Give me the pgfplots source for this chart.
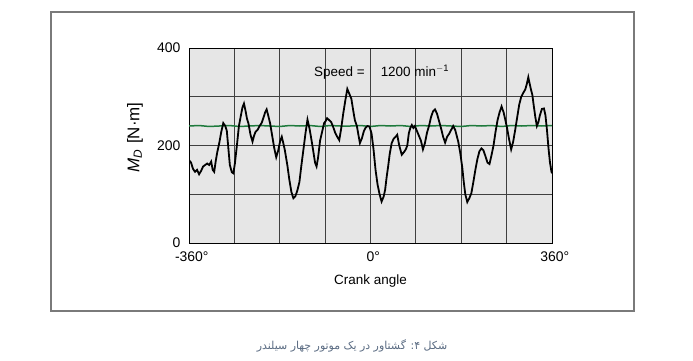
\documentclass[border=0pt]{standalone}
\usepackage{pgfplots}
\pgfplotsset{compat=1.18}
\usepackage{fontspec}
\setmainfont{Liberation Sans}
\newfontfamily\arabicfont[Script=Arabic]{DejaVu Sans}
\TeXXeTstate=1
\definecolor{plotbg}{HTML}{E6E6E6}
\definecolor{gridc}{HTML}{404040}
\definecolor{greenc}{HTML}{1E7A3C}
\definecolor{framec}{HTML}{7A7A7A}
\definecolor{capc}{HTML}{5A6B82}
\begin{document}
\begin{tikzpicture}[x=1bp,y=1bp]
\useasboundingbox (0,0) rectangle (693,360);
\draw[framec, line width=1.2bp] (51,49) rectangle (634,348);
\begin{axis}[
  at={(189bp,117bp)}, anchor=south west,
  scale only axis, width=363bp, height=195bp,
  xmin=-360, xmax=360, ymin=0, ymax=400,
  axis background/.style={fill=plotbg},
  xtick={-360,-270,...,360},
  xticklabels={-360\rlap{°},,,,0\rlap{°},,,,360\rlap{°}},
  ytick={0,100,...,400},
  yticklabels={0,,200,,400},
  major tick length=0pt,
  grid=major,
  grid style={gridc, line width=0.9bp},
  axis line style={black, line width=0.9bp},
  tick label style={font=\fontsize{14}{15}\selectfont},
  yticklabel style={xshift=-5bp},
  xticklabel style={yshift=-5bp},
  /pgf/number format/assume math mode=true,
  xlabel={Crank angle},
  xlabel style={font=\fontsize{13.5}{14}\selectfont, at={(axis description cs:0.5,-0.195)}, anchor=center},
  ylabel={{\itshape M}\textsubscript{\itshape D}\hspace{0.35em}[N·m]},
  ylabel style={font=\fontsize{17}{18}\selectfont, at={(axis description cs:-0.149,0.54)}, anchor=center},
  clip=true,
]
\addplot[greenc, line width=1.5bp] coordinates {
(-360,240) (-340,241) (-320,239) (-300,240) (-280,241) (-260,239) (-240,240) (-220,241)
(-200,240) (-180,239) (-160,241) (-140,240) (-120,241) (-100,239) (-80,241) (-60,240)
(-40,240) (-20,241) (0,239) (20,241) (40,240) (60,241) (80,239) (100,241) (120,240)
(140,241) (160,240) (180,239) (200,241) (220,240) (240,241) (260,239) (280,241) (300,240)
(320,241) (340,240) (360,241)
};
\addplot[black, line width=1.8bp] coordinates {
(-360,170) (-356,165) (-352,152) (-348,146) (-344,150) (-340,141) (-336,148) (-332,157)
(-328,160) (-324,163) (-320,160) (-316,167) (-313,150) (-310,146) (-307,168) (-304,186)
(-300,205) (-296,228) (-292,246) (-288,240) (-285,230) (-282,195) (-279,160) (-275,145)
(-272,143) (-269,163) (-265,200) (-261,240) (-257,262) (-254,278) (-251,286) (-248,272)
(-245,255) (-242,245) (-238,222) (-234,208) (-231,220) (-228,228) (-224,232) (-220,240)
(-216,246) (-212,258) (-209,268) (-206,274) (-203,262) (-199,245) (-195,220) (-191,195)
(-187,176) (-183,190) (-179,210) (-176,218) (-173,205) (-170,191) (-165,160) (-161,130)
(-157,105) (-153,92) (-149,96) (-145,108) (-141,125) (-137,160) (-133,192) (-129,225)
(-125,253) (-121,235) (-117,211) (-113,185) (-110,165) (-107,157) (-104,175) (-100,210)
(-96,228) (-92,246) (-89,250) (-86,256) (-82,252) (-78,248) (-74,238) (-70,226) (-66,218)
(-62,211) (-58,236) (-54,266) (-50,292) (-46,316) (-42,306) (-38,296) (-34,270) (-31,252)
(-27,240) (-24,222) (-21,205) (-17,215) (-13,230) (-10,236) (-6,240) (-2,239) (2,225)
(6,192) (10,150) (14,120) (18,100) (22,85) (26,95) (29,109) (32,135) (35,157) (38,182)
(42,205) (46,214) (50,218) (53,222) (57,200) (62,181) (66,186) (70,192) (73,200) (76,225)
(79,236) (82,242) (85,236) (88,240) (92,230) (96,220) (100,210) (104,192) (108,205)
(112,226) (116,240) (120,258) (124,270) (128,274) (132,265) (136,250) (140,235) (144,218)
(148,206) (152,218) (156,224) (160,232) (164,240) (168,232) (171,220) (174,208) (178,185)
(182,155) (185,125) (188,100) (192,84) (196,92) (200,102) (204,125) (208,150) (212,172)
(216,188) (220,194) (224,190) (228,178) (232,165) (236,162) (240,180) (244,200) (248,228)
(252,252) (256,268) (260,280) (264,268) (268,250) (271,235) (275,212) (279,192) (283,208)
(287,232) (291,258) (295,284) (299,300) (303,308) (307,315) (310,326) (313,340) (315,330)
(318,316) (321,304) (324,280) (327,258) (330,240) (333,248) (336,262) (340,275) (344,276)
(347,262) (350,232) (353,195) (356,165) (359,146) (360,143)
};
\node[font=\fontsize{13.5}{14}\selectfont] at (axis cs:22,351) {Speed =\hspace{1.2em}1200 min\textsuperscript{$-$1}};
\end{axis}
\node[text=capc, font=\fontsize{11}{12}\selectfont] at (352,14) {\arabicfont\beginR شکل ۴: گشتاور در یک موتور چهار سیلندر\endR};
\end{tikzpicture}
\end{document}
